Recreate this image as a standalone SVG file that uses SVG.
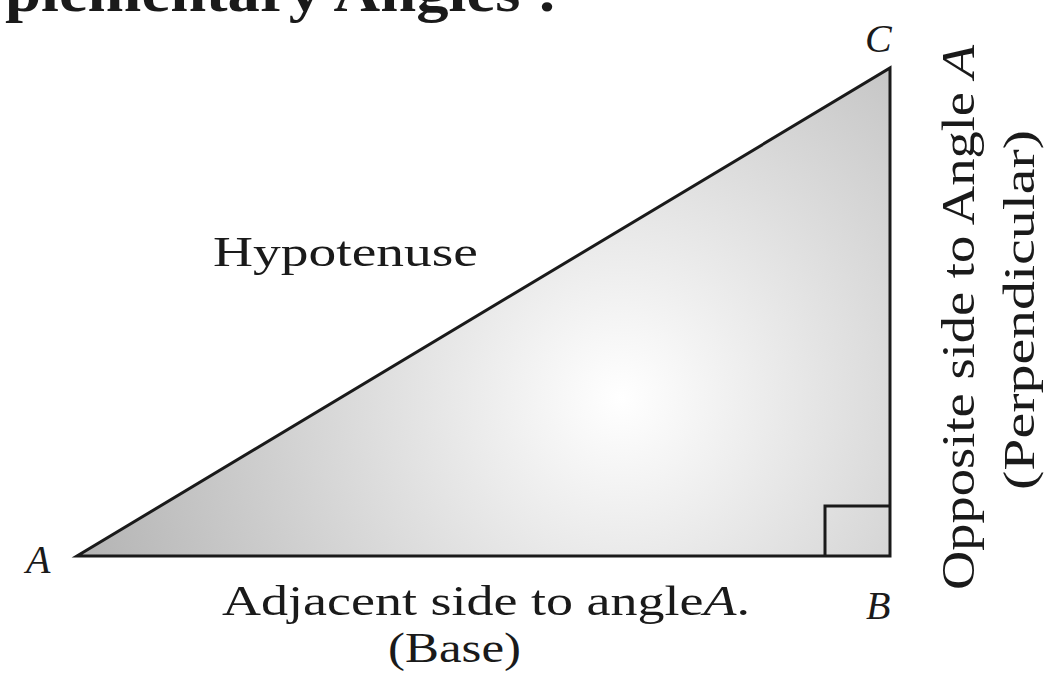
<svg xmlns="http://www.w3.org/2000/svg" width="1046" height="678" viewBox="0 0 1046 678">
<style>
.t{font-family:"Liberation Serif","DejaVu Serif",serif;fill:#1a1a1a}
.i{font-style:italic}
.edge{fill:none;stroke:#1a1a1a;stroke-width:3;stroke-linejoin:miter}
</style>
<defs>
<radialGradient id="g" gradientUnits="userSpaceOnUse" cx="621" cy="398" r="560">
<stop offset="0" stop-color="#ffffff"/>
<stop offset="1" stop-color="#b4b4b4"/>
</radialGradient>
</defs>
<rect width="1046" height="678" fill="#ffffff"/>
<text class="t" x="5" y="11" font-size="56" font-weight="bold" textLength="553" lengthAdjust="spacingAndGlyphs">plementary Angles :</text>
<g id="triangle">
<polygon points="77,556 890,556 890,68" fill="url(#g)" stroke="#1a1a1a" stroke-width="3" stroke-linejoin="miter"/>
</g>
<g id="connectors">
<polyline class="edge" points="825,556 825,506 890,506"/>
</g>
<g id="labels">
<text class="t i" x="865" y="52" font-size="40">C</text>
<text class="t i" x="26" y="573" font-size="40">A</text>
<text class="t i" x="866" y="619" font-size="40">B</text>
<text class="t" x="213" y="266" font-size="42" textLength="265" lengthAdjust="spacingAndGlyphs">Hypotenuse</text>
<text class="t" x="222" y="615" font-size="43" textLength="528" lengthAdjust="spacingAndGlyphs">Adjacent side to angle<tspan class="i">A</tspan>.</text>
<text class="t" x="388" y="662" font-size="43" textLength="133" lengthAdjust="spacingAndGlyphs">(Base)</text>
<text class="t" transform="translate(974,590) rotate(-90)" font-size="46" textLength="545" lengthAdjust="spacingAndGlyphs">Opposite side to Angle <tspan class="i">A</tspan></text>
<text class="t" transform="translate(1034,490) rotate(-90)" font-size="44" textLength="360" lengthAdjust="spacingAndGlyphs">(Perpendicular)</text>
</g>
</svg>
